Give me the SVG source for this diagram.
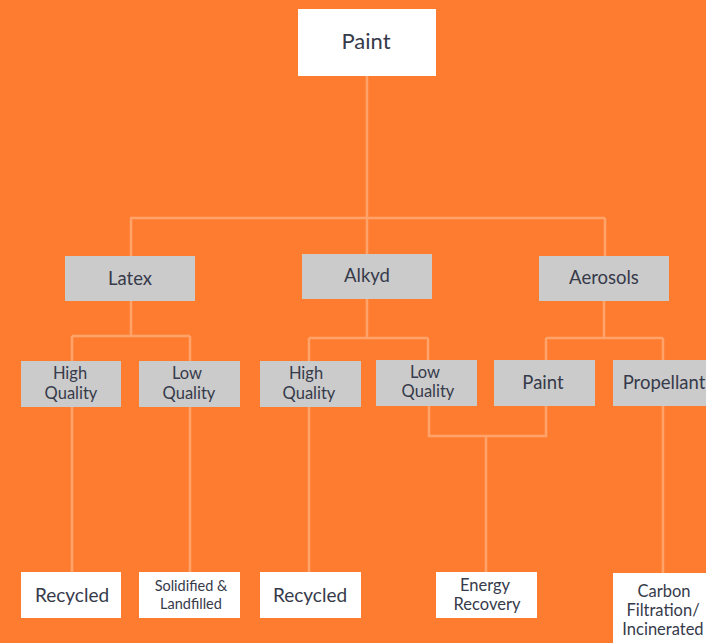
<svg xmlns="http://www.w3.org/2000/svg" width="706" height="643" viewBox="0 0 706 643">
<style>
.bg{fill:#FE7C2F}
.w{fill:#FFFFFF}
.g{fill:#CBCBCB}
.t{font-family:Lato,"Open Sans","Liberation Sans",sans-serif;fill:#363A4A;text-anchor:middle}
.c{fill:none;stroke:#FFA36B;stroke-width:2.5}
</style>
<rect class="bg" x="0" y="0" width="706" height="643"/>
<g id="connectors">
<path class="c" d="M367 76V218M130 218H605M131 218V256M367 218V254M605 218V256"/>
<path class="c" d="M131 301V336M72 336H190M72 336V361M190 336V361"/>
<path class="c" d="M367 299V338M309 338H428M309 338V361M428 338V360"/>
<path class="c" d="M604 301V338M546 338H663M546 338V360M663 338V360"/>
<path class="c" d="M72 407V572M190 407V572M309 407V572M663 406V573"/>
<path class="c" d="M429 406V436H546V406M486 436V572"/>
</g>
<g id="n-paint"><rect class="w" x="298" y="9" width="138" height="67"/><text class="t" x="366" y="49" font-size="22">Paint</text></g>
<g id="n-latex"><rect class="g" x="65" y="256" width="130" height="45"/><text class="t" x="130" y="285" font-size="18.5">Latex</text></g>
<g id="n-alkyd"><rect class="g" x="302" y="254" width="130" height="45"/><text class="t" x="367" y="282" font-size="18.5">Alkyd</text></g>
<g id="n-aerosols"><rect class="g" x="539" y="256" width="130" height="45"/><text class="t" x="604" y="284" font-size="18.5">Aerosols</text></g>
<g id="n-hq1"><rect class="g" x="21" y="361" width="100" height="46"/><text class="t" x="70" y="379" font-size="16.5">High</text><text class="t" x="71" y="399" font-size="16.5">Quality</text></g>
<g id="n-lq1"><rect class="g" x="139" y="361" width="101" height="46"/><text class="t" x="187" y="379" font-size="16.5">Low</text><text class="t" x="189" y="399" font-size="16.5">Quality</text></g>
<g id="n-hq2"><rect class="g" x="260" y="361" width="101" height="46"/><text class="t" x="306" y="379" font-size="16.5">High</text><text class="t" x="309" y="399" font-size="16.5">Quality</text></g>
<g id="n-lq2"><rect class="g" x="376" y="360" width="101" height="46"/><text class="t" x="425" y="378" font-size="16.5">Low</text><text class="t" x="428" y="397" font-size="16.5">Quality</text></g>
<g id="n-paint2"><rect class="g" x="494" y="360" width="101" height="46"/><text class="t" x="543" y="389" font-size="18.5">Paint</text></g>
<g id="n-propellant"><rect class="g" x="613" y="360" width="100" height="46"/><text class="t" x="664" y="389" font-size="18.5">Propellant</text></g>
<g id="n-rec1"><rect class="w" x="21" y="572" width="100" height="46"/><text class="t" x="72" y="602" font-size="19">Recycled</text></g>
<g id="n-solid"><rect class="w" x="139" y="572" width="101" height="46"/><text class="t" x="191" y="591" font-size="14.5">Solidified &amp;</text><text class="t" x="191" y="609" font-size="14.5">Landfilled</text></g>
<g id="n-rec2"><rect class="w" x="260" y="572" width="101" height="46"/><text class="t" x="310" y="602" font-size="19">Recycled</text></g>
<g id="n-energy"><rect class="w" x="436" y="572" width="101" height="46"/><text class="t" x="485" y="591" font-size="16.5">Energy</text><text class="t" x="487" y="610" font-size="16.5">Recovery</text></g>
<g id="n-carbon"><rect class="w" x="613" y="573" width="100" height="70"/><text class="t" x="664" y="597" font-size="16.5">Carbon</text><text class="t" x="663" y="616" font-size="16.5">Filtration/</text><text class="t" x="663" y="635" font-size="16.5">Incinerated</text></g>
</svg>
